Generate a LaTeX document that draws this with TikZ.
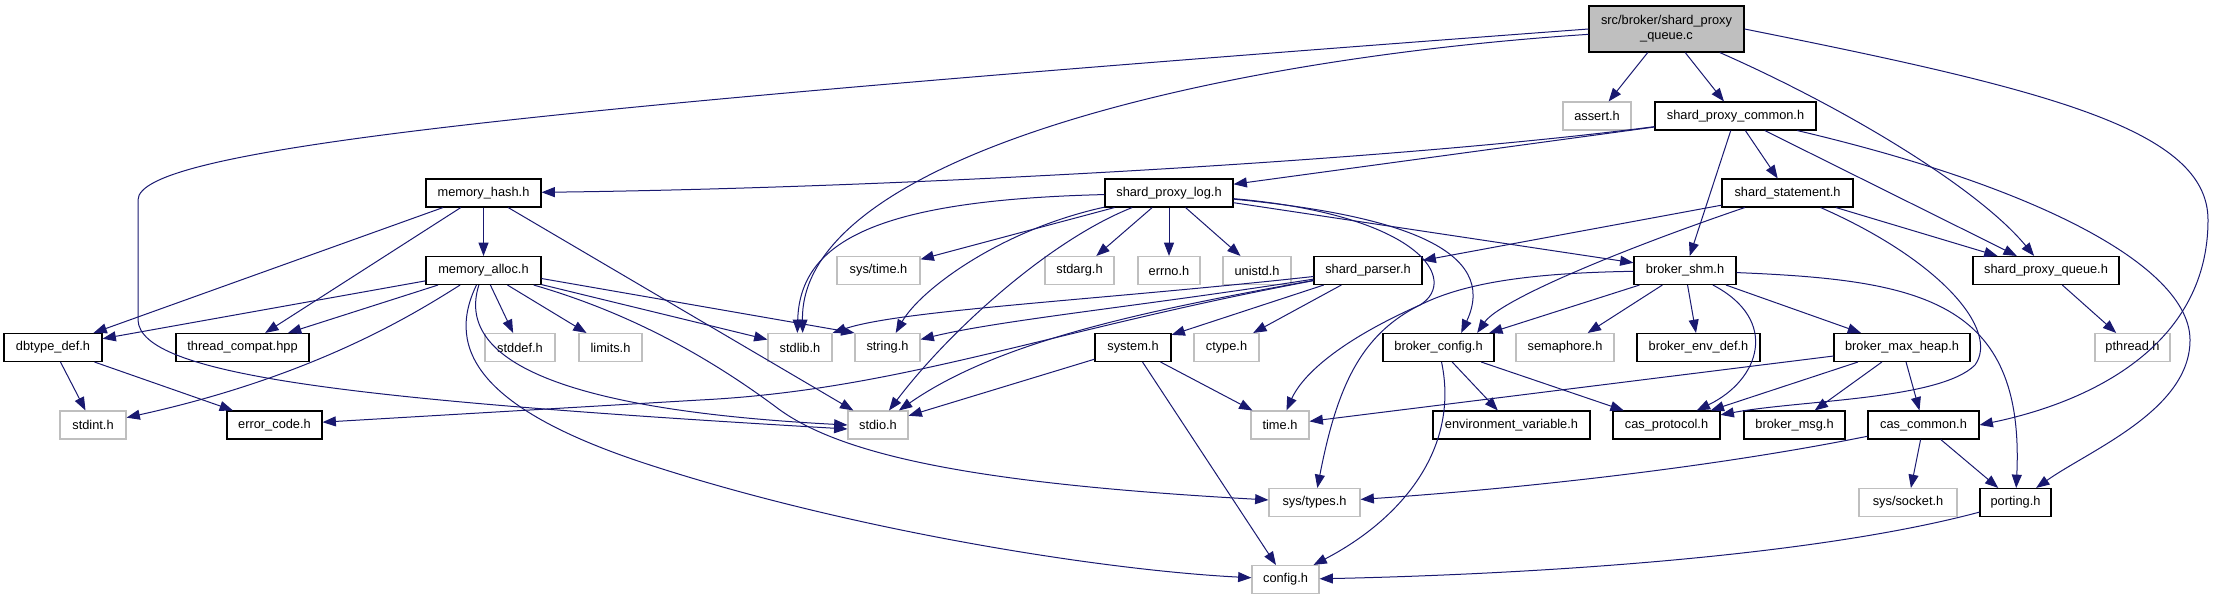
\documentclass[tikz,border=0pt]{standalone}
\usepackage{fontspec}
\setmainfont{Liberation Sans}
\usetikzlibrary{arrows.meta}
\definecolor{edgeblue}{HTML}{191970}
\definecolor{boxgrey}{HTML}{BFBFBF}

\begin{document}
\begin{tikzpicture}[x=0.75pt,y=-0.75pt,
  file/.style={draw=black,line width=0.8pt,fill=white,inner sep=0pt,minimum height=21pt,font=\fontsize{9.6}{11.5}\selectfont},
  sysfile/.style={file,draw=boxgrey},
  rootfile/.style={file,fill=boxgrey,align=center,minimum height=34.5pt},
  inc/.style={draw=edgeblue,line width=0.75pt,-{Triangle[length=10pt,width=7.5pt]}}]
\useasboundingbox (0,0) rectangle (2215,600);

\node[rootfile,minimum width=116.25pt] (root) at (1666.5,29) {src/broker/shard\_proxy\\\_queue.c};
\node[sysfile,minimum width=51pt] (assert) at (1597,116) {assert.h};
\node[file,minimum width=120.75pt] (spc) at (1735.5,116) {shard\_proxy\_common.h};
\node[file,minimum width=86.25pt] (mhash) at (483.5,193) {memory\_hash.h};
\node[file,minimum width=96pt] (spl) at (1169,193) {shard\_proxy\_log.h};
\node[file,minimum width=98.25pt] (sstmt) at (1787.5,193) {shard\_statement.h};
\node[file,minimum width=86.25pt] (malloc) at (483.5,270.5) {memory\_alloc.h};
\node[sysfile,minimum width=62.25pt] (systime) at (878.5,270.5) {sys/time.h};
\node[sysfile,minimum width=51.75pt] (stdarg) at (1079.5,270.5) {stdarg.h};
\node[sysfile,minimum width=46.5pt] (errno) at (1169,270.5) {errno.h};
\node[sysfile,minimum width=51pt] (unistd) at (1257,270.5) {unistd.h};
\node[file,minimum width=81pt] (sparser) at (1368,270.5) {shard\_parser.h};
\node[file,minimum width=76.5pt] (bshm) at (1685,270.5) {broker\_shm.h};
\node[file,minimum width=109.5pt] (spq) at (2046,270.5) {shard\_proxy\_queue.h};
\node[file,minimum width=73.5pt] (dbtype) at (53,347.5) {dbtype\_def.h};
\node[file,minimum width=99.75pt] (tcompat) at (242.5,347.5) {thread\_compat.hpp};
\node[sysfile,minimum width=52.5pt] (stddef) at (520,347.5) {stddef.h};
\node[sysfile,minimum width=47.25pt] (limits) at (610.5,347.5) {limits.h};
\node[sysfile,minimum width=48pt] (stdlib) at (800,347.5) {stdlib.h};
\node[sysfile,minimum width=48.75pt] (string) at (887.5,347.5) {string.h};
\node[file,minimum width=57pt] (system) at (1133,347.5) {system.h};
\node[sysfile,minimum width=48.75pt] (ctype) at (1226.5,347.5) {ctype.h};
\node[file,minimum width=83.25pt] (bconfig) at (1438.5,347.5) {broker\_config.h};
\node[sysfile,minimum width=73.5pt] (semaphore) at (1565,347.5) {semaphore.h};
\node[file,minimum width=92.25pt] (benvdef) at (1698.5,347.5) {broker\_env\_def.h};
\node[file,minimum width=102pt] (bmaxheap) at (1902,347.5) {broker\_max\_heap.h};
\node[sysfile,minimum width=56.25pt] (pthread) at (2132.5,347.5) {pthread.h};
\node[sysfile,minimum width=49.5pt] (stdint) at (93,425) {stdint.h};
\node[file,minimum width=71.25pt] (errcode) at (274.5,425) {error\_code.h};
\node[sysfile,minimum width=45pt] (stdio) at (878,425) {stdio.h};
\node[sysfile,minimum width=43.5pt] (timeh) at (1280,425) {time.h};
\node[file,minimum width=117.75pt] (envvar) at (1511.5,425) {environment\_variable.h};
\node[file,minimum width=80.25pt] (casproto) at (1666.5,425) {cas\_protocol.h};
\node[file,minimum width=75.75pt] (bmsg) at (1794.5,425) {broker\_msg.h};
\node[file,minimum width=83.25pt] (cascommon) at (1923.5,425) {cas\_common.h};
\node[sysfile,minimum width=68.25pt] (systypes) at (1314.5,502.5) {sys/types.h};
\node[sysfile,minimum width=73.5pt] (syssocket) at (1908,502.5) {sys/socket.h};
\node[file,minimum width=53.25pt] (porting) at (2015.5,502.5) {porting.h};
\node[sysfile,minimum width=50.25pt] (config) at (1285.5,579.5) {config.h};

\draw[inc] (root) -- (assert);
\draw[inc] (root) -- (spc);
\draw[inc] (root.west) .. controls (500,110) and (138,150) .. (138,200) -- (138,320) .. controls (140,375) and (350,400) .. ([yshift=-3pt]stdio.west);
\draw[inc] ([yshift=-4pt]root.west) .. controls (1200,60) and (800,160) .. ([xshift=2pt]stdlib.north);
\draw[inc] (root) .. controls (1850,110) and (1980,190) .. (spq);
\draw[inc] (root.east) .. controls (2050,90) and (2208,130) .. (2208,220) .. controls (2208,340) and (2100,400) .. (cascommon.east);

\draw[inc] (spc) .. controls (1400,160) and (900,188) .. (mhash);
\draw[inc] (spc) -- (spl);
\draw[inc] (spc) -- (sstmt);
\draw[inc] (spc) -- (bshm);
\draw[inc] (spc) -- (spq);
\draw[inc] (spc) .. controls (2050,190) and (2190,270) .. (2190,340) .. controls (2190,410) and (2090,450) .. (porting);

\draw[inc] (sstmt) -- (sparser);
\draw[inc] (sstmt) .. controls (1620,250) and (1500,300) .. ([xshift=29pt]bconfig.north);
\draw[inc] (sstmt) -- (spq);
\draw[inc] (sstmt) .. controls (1940,260) and (2000,330) .. (1975,365) .. controls (1940,400) and (1800,400) .. (casproto);
\draw[inc] (spq) -- (pthread);

\draw[inc] (mhash) -- (malloc);
\draw[inc] (mhash) -- (dbtype);
\draw[inc] (mhash) -- (tcompat);
\draw[inc] (mhash) -- (stdio);

\draw[inc] (malloc) -- (dbtype);
\draw[inc] (malloc) -- (tcompat);
\draw[inc] (malloc) .. controls (420,310) and (320,375) .. (stdint);
\draw[inc] (malloc) -- (stddef);
\draw[inc] (malloc) -- (limits);
\draw[inc] (malloc) -- (stdlib);
\draw[inc] ([yshift=-6pt]malloc.east) -- (string.north west);
\draw[inc] (malloc) .. controls (455,360) and (560,410) .. (stdio.west);
\draw[inc] (malloc) .. controls (445,350) and (480,410) .. (650,465) .. controls (850,530) and (1100,570) .. (config);
\draw[inc] (malloc) .. controls (620,310) and (700,350) .. (780,410) .. controls (850,460) and (1000,485) .. (systypes);

\draw[inc] (spl) .. controls (880,200) and (800,240) .. ([xshift=-2pt]stdlib.north);
\draw[inc] (spl) -- (systime);
\draw[inc] (spl) .. controls (1000,230) and (920,290) .. (string);
\draw[inc] (spl) .. controls (1050,240) and (950,330) .. (stdio);
\draw[inc] (spl) -- (stdarg);
\draw[inc] (spl) -- (errno);
\draw[inc] (spl) -- (unistd);
\draw[inc] (spl) -- (bshm);
\draw[inc] (spl) .. controls (1400,215) and (1500,250) .. ([xshift=17pt]bconfig.north);
\draw[inc] (spl) .. controls (1420,215) and (1460,280) .. (1420,305) .. controls (1330,345) and (1300,380) .. (timeh);

\draw[inc] (sparser) .. controls (1100,300) and (900,310) .. (stdlib.north east);
\draw[inc] (sparser) .. controls (1150,305) and (1000,320) .. (string);
\draw[inc] (sparser) .. controls (1150,310) and (1000,340) .. (stdio);
\draw[inc] (sparser) .. controls (1050,330) and (900,390) .. (700,400) -- (errcode);
\draw[inc] (sparser) -- (system);
\draw[inc] (sparser) -- (ctype);

\draw[inc] (system) -- (stdio);
\draw[inc] (system) -- (timeh);
\draw[inc] (system) -- (config);

\draw[inc] (bshm) -- ([xshift=38pt]bconfig.north);
\draw[inc] (bshm) -- (semaphore);
\draw[inc] (bshm) -- (benvdef);
\draw[inc] (bshm) .. controls (1780,320) and (1760,380) .. (casproto);
\draw[inc] (bshm) -- (bmaxheap);
\draw[inc] (bshm) .. controls (1920,280) and (2025,300) .. (porting);
\draw[inc] (bshm) .. controls (1400,275) and (1350,320) .. (systypes);

\draw[inc] (bconfig) -- (envvar);
\draw[inc] (bconfig) -- (casproto);
\draw[inc] (bconfig) .. controls (1460,450) and (1400,520) .. (config);

\draw[inc] (bmaxheap) -- (timeh);
\draw[inc] (bmaxheap) -- (casproto);
\draw[inc] (bmaxheap) -- (bmsg);
\draw[inc] (bmaxheap) -- (cascommon);

\draw[inc] (cascommon) .. controls (1700,470) and (1500,490) .. (systypes);
\draw[inc] (cascommon) -- (syssocket);
\draw[inc] (cascommon) -- (porting);
\draw[inc] (porting) .. controls (1800,560) and (1500,575) .. (config);

\draw[inc] (dbtype) -- (stdint);
\draw[inc] (dbtype) -- (errcode);
\end{tikzpicture}
\end{document}
